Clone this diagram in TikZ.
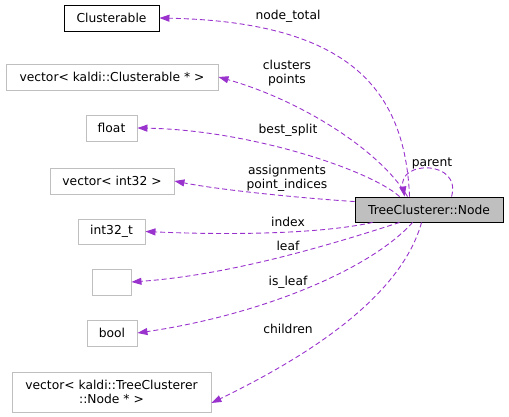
\documentclass[tikz,border=0pt]{standalone}
\usepackage{fontspec}
\setmainfont{DejaVu Sans}
\usetikzlibrary{arrows.meta}
\definecolor{edgepurple}{HTML}{9A32CD}
\definecolor{boxgray}{HTML}{BFBFBF}

\tikzstyle{every node}=[font={\fontsize{12.3}{14}\selectfont}, inner sep=2.5pt]
\tikzstyle{member}=[draw=boxgray, line width=0.9pt, minimum height=26pt]
\tikzstyle{documented}=[draw=black, line width=0.9pt, minimum height=26pt]
\tikzstyle{owner}=[draw=black, fill=boxgray, line width=0.9pt, minimum height=25pt]
\tikzstyle{usage}=[draw=edgepurple, line width=0.9pt, dash pattern=on 5pt off 3pt, -{Triangle[length=10pt,width=7pt,fill=edgepurple]}]

\begin{document}
\begin{tikzpicture}[x=1pt,y=-1pt]
    \useasboundingbox (0,0) rectangle (509,417);
    \node [owner, minimum width=148pt] (tcn) at (429,209.5) {TreeClusterer::Node};
    \node [documented, minimum width=95pt] (clust) at (111.5,18) {Clusterable};
    \node [member, minimum width=212pt] (vecclust) at (112,77) {vector< kaldi::Clusterable * >};
    \node [member, minimum width=51pt] (float) at (111.5,128) {float};
    \node [member, minimum width=124pt] (vecint) at (112,181) {vector< int32 >};
    \node [member, minimum width=67pt, minimum height=25pt] (int32t) at (111.5,231.5) {int32\_t};
    \node [member, minimum width=39pt] (empty) at (111.5,282) {};
    \node [member, minimum width=50pt] (bool) at (112,333) {bool};
    \node [member, minimum width=199pt, minimum height=40pt, align=center] (vecnode) at (111.5,392) {vector< kaldi::TreeClusterer\\::Node * >};

    \node (lnodetotal) at (288,16) {node\_total};
    \node [align=center] (lclusters) at (287,73) {clusters\\points};
    \node (lbestsplit) at (288,130) {best\_split};
    \node [align=center] (lassign) at (287,178) {assignments\\point\_indices};
    \node (lindex) at (288,222) {index};
    \node (lleaf) at (288,246) {leaf};
    \node (lisleaf) at (288,282) {is\_leaf};
    \node (lchildren) at (288,329) {children};
    \node (lparent) at (432,163) {parent};

    \draw [usage] ([xshift=55pt]tcn.north west) .. controls (405,90) and (350,22) .. (clust.east);
    \draw [usage] ([xshift=53pt]tcn.north west) .. controls (380,150) and (300,100) .. (vecclust.east);
    \draw [usage] ([xshift=45pt]tcn.north west) .. controls (370,170) and (250,130) .. (float.east);
    \draw [usage] ([yshift=-5pt]tcn.north west) .. controls (300,198) and (220,190) .. (vecint.east);
    \draw [usage] ([xshift=18pt]tcn.south west) .. controls (330,232) and (250,236) .. (int32t.east);
    \draw [usage] ([xshift=45pt]tcn.south west) .. controls (330,245) and (230,275) .. (empty.east);
    \draw [usage] ([xshift=58pt]tcn.south west) .. controls (370,270) and (260,315) .. (bool.east);
    \draw [usage] ([xshift=67pt]tcn.south west) .. controls (400,300) and (300,360) .. ([yshift=-11pt]vecnode.east);
    \draw [usage] ([xshift=97pt]tcn.north west) .. controls (462,160) and (398,160) .. ([xshift=50pt]tcn.north west);
\end{tikzpicture}
\end{document}
